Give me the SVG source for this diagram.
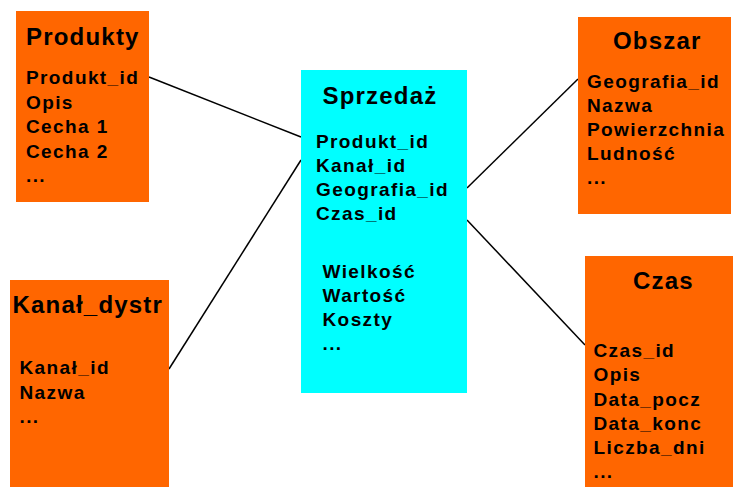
<svg xmlns="http://www.w3.org/2000/svg" width="733" height="487" viewBox="0 0 733 487">
<style>
.dim{fill:#FF6600}
.fact{fill:#00FFFF}
text{font-family:"Liberation Sans",Arial,sans-serif;font-weight:bold;fill:#000}
.t{font-size:24px;letter-spacing:1.2px}
.f{font-size:19px;letter-spacing:1.4px}
.c{stroke:#000;stroke-width:1.5;fill:none}
</style>
<rect width="733" height="487" fill="#fff"/>
<g id="connectors">
<line class="c" x1="149" y1="77" x2="301" y2="137"/>
<line class="c" x1="169" y1="369" x2="301" y2="160"/>
<line class="c" x1="467" y1="188" x2="578" y2="79"/>
<line class="c" x1="467" y1="220" x2="585" y2="345"/>
</g>
<g id="produkty">
<rect class="dim" x="16" y="11" width="133" height="191"/>
<text class="t" x="26" y="44.5">Produkty</text>
<text class="f" x="26" y="84">Produkt_id</text>
<text class="f" x="26" y="108.5">Opis</text>
<text class="f" x="26" y="133">Cecha 1</text>
<text class="f" x="26" y="157.5">Cecha 2</text>
<text class="f" x="26" y="182">...</text>
</g>
<g id="kanal">
<rect class="dim" x="10" y="280" width="159" height="207"/>
<text class="t" x="12.5" y="312.5">Kanał_dystr</text>
<text class="f" x="19.5" y="374">Kanał_id</text>
<text class="f" x="19.5" y="398.5">Nazwa</text>
<text class="f" x="19.5" y="423">...</text>
</g>
<g id="sprzedaz">
<rect class="fact" x="301" y="70" width="166" height="323"/>
<text class="t" x="322.5" y="103.5">Sprzedaż</text>
<text class="f" x="316" y="147.5">Produkt_id</text>
<text class="f" x="316" y="171.5">Kanał_id</text>
<text class="f" x="316" y="195.5">Geografia_id</text>
<text class="f" x="316" y="219.5">Czas_id</text>
<text class="f" x="322.5" y="278">Wielkość</text>
<text class="f" x="322.5" y="302">Wartość</text>
<text class="f" x="322.5" y="326">Koszty</text>
<text class="f" x="322.5" y="350">...</text>
</g>
<g id="obszar">
<rect class="dim" x="578" y="17" width="153" height="197"/>
<text class="t" x="613" y="49">Obszar</text>
<text class="f" x="587" y="87.5">Geografia_id</text>
<text class="f" x="587" y="111.5">Nazwa</text>
<text class="f" x="587" y="135.5">Powierzchnia</text>
<text class="f" x="587" y="159.5">Ludność</text>
<text class="f" x="587" y="184">...</text>
</g>
<g id="czas">
<rect class="dim" x="585" y="256" width="148" height="231"/>
<text class="t" x="633" y="288.5">Czas</text>
<text class="f" x="593.5" y="357">Czas_id</text>
<text class="f" x="593.5" y="381">Opis</text>
<text class="f" x="593.5" y="405.5">Data_pocz</text>
<text class="f" x="593.5" y="429.5">Data_konc</text>
<text class="f" x="593.5" y="454">Liczba_dni</text>
<text class="f" x="593.5" y="478">...</text>
</g>
</svg>
